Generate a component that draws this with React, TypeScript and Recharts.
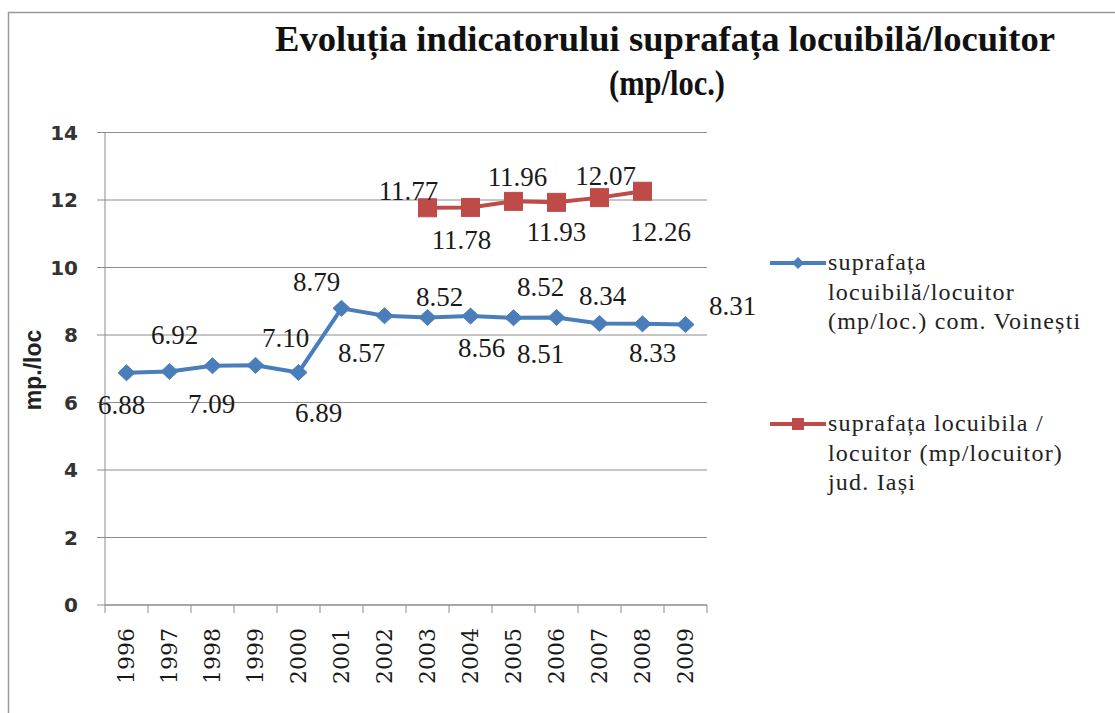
import React from 'react';
import { LineChart, Line, XAxis, YAxis, CartesianGrid, Legend, LabelList } from 'recharts';

// ---------- data ----------
const years = ['1996', '1997', '1998', '1999', '2000', '2001', '2002', '2003', '2004', '2005', '2006', '2007', '2008', '2009'];
const voinesti = [6.88, 6.92, 7.09, 7.1, 6.89, 8.79, 8.57, 8.52, 8.56, 8.51, 8.52, 8.34, 8.33, 8.31];
const iasi = [null, null, null, null, null, null, null, 11.77, 11.78, 11.96, 11.93, 12.07, 12.26, null];
const yTicks = [0, 2, 4, 6, 8, 10, 12, 14];
const titleLine1 = 'Evoluția indicatorului  suprafața locuibilă/locuitor';
const titleLine2 = '(mp/loc.)';
const yAxisTitle = 'mp./loc';
const nameVoinesti = 'suprafața locuibilă/locuitor (mp/loc.) com. Voinești';
const nameIasi = 'suprafața locuibila / locuitor (mp/locuitor) jud. Iași';
const legendLinesVoinesti = ['suprafața', 'locuibilă/locuitor', '(mp/loc.) com. Voinești'];
const legendLinesIasi = ['suprafața locuibila /', 'locuitor (mp/locuitor)', 'jud. Iași'];

const data = years.map((year, i) => ({ year, voinesti: voinesti[i], iasi: iasi[i] }));

// ---------- styles ----------
const BLUE = '#4A7EBB';
const RED = '#BE4B48';
const GRID = '#8c8c8c';
const SERIF = 'Liberation Serif, Times New Roman, serif';

// label placement (dx, dy from the marker), by category index
const blueLabelOffsets: Record<number, [number, number]> = {
  0: [-5, 32], 1: [5, -36], 2: [-1, 38], 3: [30, -27], 4: [20, 41], 5: [-25, -26], 6: [-23, 37],
  7: [12, -20], 8: [11, 32], 9: [27, 36], 10: [-16, -30], 11: [3, -28], 12: [10, 29], 13: [47, -19],
};
const redLabelOffsets: Record<number, [number, number]> = {
  7: [-19, -17], 8: [-9, 33], 9: [4, -24], 10: [0, 30], 11: [6, -22], 12: [18, 41],
};

const makeLabel = (offsets: Record<number, [number, number]>) => (props: any) => {
  const { value } = props;
  if (value == null) return null;
  const vb = props.viewBox || {};
  const bx = props.x ?? vb.x;
  const by = props.y ?? vb.y;
  if (bx == null || by == null) return null;
  const w = props.width ?? vb.width ?? 0;
  const h = props.height ?? vb.height ?? 0;
  let index = props.index;
  if (index == null && props.payload) index = years.indexOf(props.payload.year);
  const o = offsets[index] || [0, -26];
  return (
    <text
      key={`lbl-${index}`}
      x={bx + w / 2 + o[0]}
      y={by + h / 2 + o[1]}
      textAnchor="middle"
      dominantBaseline="central"
      fontFamily={SERIF}
      fontSize={27}
      fill="#1a1a1a"
    >
      {Number(value).toFixed(2)}
    </text>
  );
};

const Diamond = (props: any) => {
  const { cx, cy, index } = props;
  if (cx == null || cy == null) return <g key={`d-${index}`} />;
  const hw = 8.5;
  const hh = 8;
  return (
    <polygon
      key={`d-${index}`}
      points={`${cx},${cy - hh} ${cx + hw},${cy} ${cx},${cy + hh} ${cx - hw},${cy}`}
      fill={BLUE}
      stroke={BLUE}
      strokeWidth={1}
    />
  );
};

const Square = (props: any) => {
  const { cx, cy, index } = props;
  if (cx == null || cy == null) return <g key={`s-${index}`} />;
  const h = 9;
  return <rect key={`s-${index}`} x={cx - h} y={cy - h} width={2 * h} height={2 * h} fill={RED} stroke={RED} />;
};

const XTick = (props: any) => {
  const { x, y, payload, index } = props;
  const off = payload?.offset ?? 0;
  const last = index === years.length - 1;
  return (
    <g>
      <line x1={x - off} y1={y} x2={x - off} y2={y + 8} stroke={GRID} strokeWidth={1} />
      {last && <line x1={x + off} y1={y} x2={x + off} y2={y + 8} stroke={GRID} strokeWidth={1} />}
      <text
        transform={`translate(${x},${y + 23}) rotate(-90)`}
        textAnchor="end"
        dominantBaseline="central"
        fontFamily="DejaVu Serif, serif"
        fontSize={22}
        fill="#1a1a1a"
      >
        {payload?.value}
      </text>
    </g>
  );
};

const legendOrder = ['voinesti', 'iasi'];

const renderLegend = (props: any) => {
  const items = [...(props.payload || [])].sort(
    (a: any, b: any) => legendOrder.indexOf(a.dataKey) - legendOrder.indexOf(b.dataKey)
  );
  return (
    <div
      style={{
        fontFamily: SERIF,
        fontSize: 24,
        lineHeight: '29.5px',
        color: '#222',
        letterSpacing: 1.2,
      }}
    >
      {items.map((it: any, i: number) => {
        const isBlue = it.dataKey === 'voinesti';
        const color = isBlue ? BLUE : RED;
        const lines = isBlue ? legendLinesVoinesti : legendLinesIasi;
        return (
          <div key={i} style={{ position: 'relative', paddingLeft: 58, marginBottom: i === 0 ? 72.5 : 0 }}>
            <svg width={56} height={20} style={{ position: 'absolute', left: 0, top: 4.75 }}>
              <line x1={0} y1={10} x2={56} y2={10} stroke={color} strokeWidth={4} />
              {isBlue ? (
                <polygon points="28,4 34,10 28,16 22,10" fill={color} />
              ) : (
                <rect x={22} y={4} width={12} height={12} fill={color} />
              )}
            </svg>
            {lines.map((l, k) => (
              <div key={k} style={{ whiteSpace: 'nowrap' }}>{l}</div>
            ))}
          </div>
        );
      })}
    </div>
  );
};

export default function App() {
  return (
    <div style={{ position: 'absolute', left: 0, top: 0, width: 1115, height: 713, background: '#fff' }}>
      <LineChart
        width={1115}
        height={713}
        data={data}
        margin={{ top: 132.5, right: 408, bottom: 8, left: 0 }}
      >
        <CartesianGrid vertical={false} stroke={GRID} strokeWidth={1} />
        <XAxis
          dataKey="year"
          scale="band"
          height={100}
          interval={0}
          tickLine={false}
          tickSize={0}
          tickMargin={0}
          axisLine={{ stroke: GRID, strokeWidth: 1 }}
          tick={(p: any) => <XTick {...p} />}
        />
        <YAxis
          width={105}
          domain={[0, 14]}
          ticks={yTicks}
          interval={0}
          tickSize={8}
          tickMargin={19}
          axisLine={{ stroke: GRID, strokeWidth: 1 }}
          tickLine={{ stroke: GRID, strokeWidth: 1 }}
          tick={{ fontFamily: 'DejaVu Sans, sans-serif', fontWeight: 'bold', fontSize: 20, fill: '#333' }}
        />
        <Legend
          layout="vertical"
          align="center"
          verticalAlign="middle"
          wrapperStyle={{ left: 770, top: 248, width: 345 }}
          content={renderLegend}
        />
        <Line
          type="linear"
          dataKey="voinesti"
          name={nameVoinesti}
          stroke={BLUE}
          strokeWidth={4}
          dot={(p: any) => <Diamond {...p} />}
          activeDot={false}
          isAnimationActive={false}
        >
          <LabelList dataKey="voinesti" content={makeLabel(blueLabelOffsets)} />
        </Line>
        <Line
          type="linear"
          dataKey="iasi"
          name={nameIasi}
          stroke={RED}
          strokeWidth={4}
          dot={(p: any) => <Square {...p} />}
          activeDot={false}
          connectNulls={false}
          isAnimationActive={false}
        >
          <LabelList dataKey="iasi" content={makeLabel(redLabelOffsets)} />
        </Line>
      </LineChart>
      <svg
        width={1115}
        height={713}
        style={{ position: 'absolute', left: 0, top: 0, pointerEvents: 'none' }}
      >
        <rect x={8.5} y={12.5} width={1200} height={800} fill="none" stroke="#9a9a9a" strokeWidth={1.5} />
        <text
          x={665}
          y={51}
          textAnchor="middle"
          fontFamily={SERIF}
          fontWeight="bold"
          fontSize={36}
          textLength={780}
          lengthAdjust="spacingAndGlyphs"
          fill="#111"
        >
          {titleLine1}
        </text>
        <text
          x={667}
          y={95}
          textAnchor="middle"
          fontFamily={SERIF}
          fontWeight="bold"
          fontSize={36}
          textLength={116}
          lengthAdjust="spacingAndGlyphs"
          fill="#111"
        >
          {titleLine2}
        </text>
        <text
          transform="translate(33,370) rotate(-90)"
          textAnchor="middle"
          dominantBaseline="central"
          fontFamily="Liberation Sans, sans-serif"
          fontWeight="bold"
          fontSize={23}
          fill="#222"
        >
          {yAxisTitle}
        </text>
      </svg>
    </div>
  );
}
